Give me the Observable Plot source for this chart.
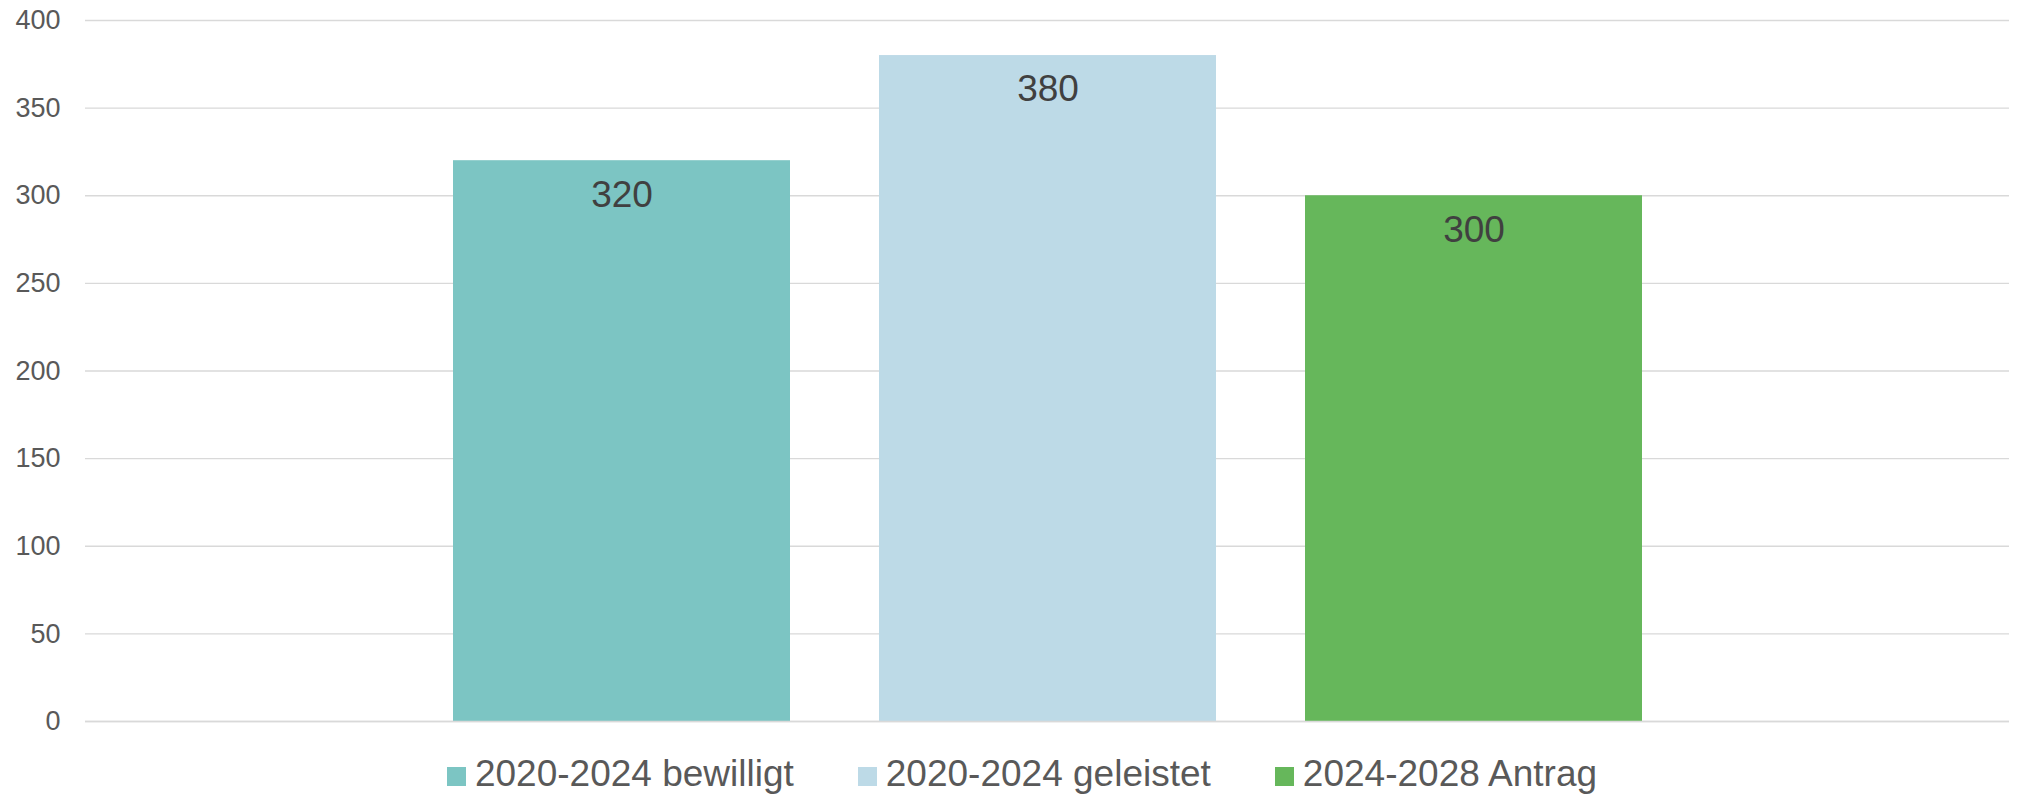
<!DOCTYPE html>
<html>
<head>
<meta charset="utf-8">
<script src="https://cdn.jsdelivr.net/npm/d3@7"></script>
<script src="https://cdn.jsdelivr.net/npm/@observablehq/plot@0.6"></script>
<style>
  html, body { margin: 0; padding: 0; background: #ffffff; }
  body { position: relative; width: 2018px; height: 797px; overflow: hidden; font-family: "Liberation Sans", Arial, sans-serif; }
  #chart { position: absolute; left: 0; top: 0; }
  #legend { position: absolute; left: 0; top: 755px; width: 2018px; box-sizing: border-box; display: flex; justify-content: center; align-items: center; padding-left: 26px; font-size: 37px; line-height: 37px; color: #595959; }
  .item { display: flex; align-items: center; margin: 0 32px; white-space: nowrap; }
  .sw { width: 19px; height: 19px; margin-right: 9px; margin-top: 5px; }
</style>
</head>
<body>
<div id="chart"></div>
<div id="legend"></div>
<script>
const series = ["2020-2024 bewilligt", "2020-2024 geleistet", "2024-2028 Antrag"];
const values = [320, 380, 300];
const colors = ["#7CC5C3", "#BDDAE7", "#66B75B"];
const yTicks = [0, 50, 100, 150, 200, 250, 300, 350, 400];

const data = series.map((s, i) => ({series: s, value: values[i]}));

const chart = Plot.plot({
  width: 2018,
  height: 740,
  marginLeft: 85,
  marginRight: 9,
  marginTop: 20,
  marginBottom: 19,
  style: {fontFamily: "Liberation Sans, Arial, sans-serif", background: "#ffffff"},
  x: {domain: series, axis: null, paddingInner: 0.21, paddingOuter: 0.858},
  y: {domain: [0, 400], ticks: yTicks, label: null},
  color: {domain: series, range: colors},
  marks: [
    Plot.ruleY(yTicks, {stroke: "#d9d9d9", strokeWidth: 1.4}),
    Plot.axisY(yTicks, {tickSize: 0, tickPadding: 25, fontSize: 27, fill: "#595959", label: null}),
    Plot.barY(data, {x: "series", y: "value", fill: "series"}),
    Plot.ruleY([0], {stroke: "#d9d9d9", strokeWidth: 1.4}),
    Plot.text(data, {x: "series", y: "value", text: d => String(d.value), dy: 34, fontSize: 37, fill: "#404040"})
  ]
});
document.getElementById("chart").appendChild(chart);

const legend = document.getElementById("legend");
series.forEach((s, i) => {
  const item = document.createElement("div");
  item.className = "item";
  const sw = document.createElement("div");
  sw.className = "sw";
  sw.style.background = colors[i];
  const label = document.createElement("span");
  label.textContent = s;
  item.appendChild(sw);
  item.appendChild(label);
  legend.appendChild(item);
});
</script>
</body>
</html>
